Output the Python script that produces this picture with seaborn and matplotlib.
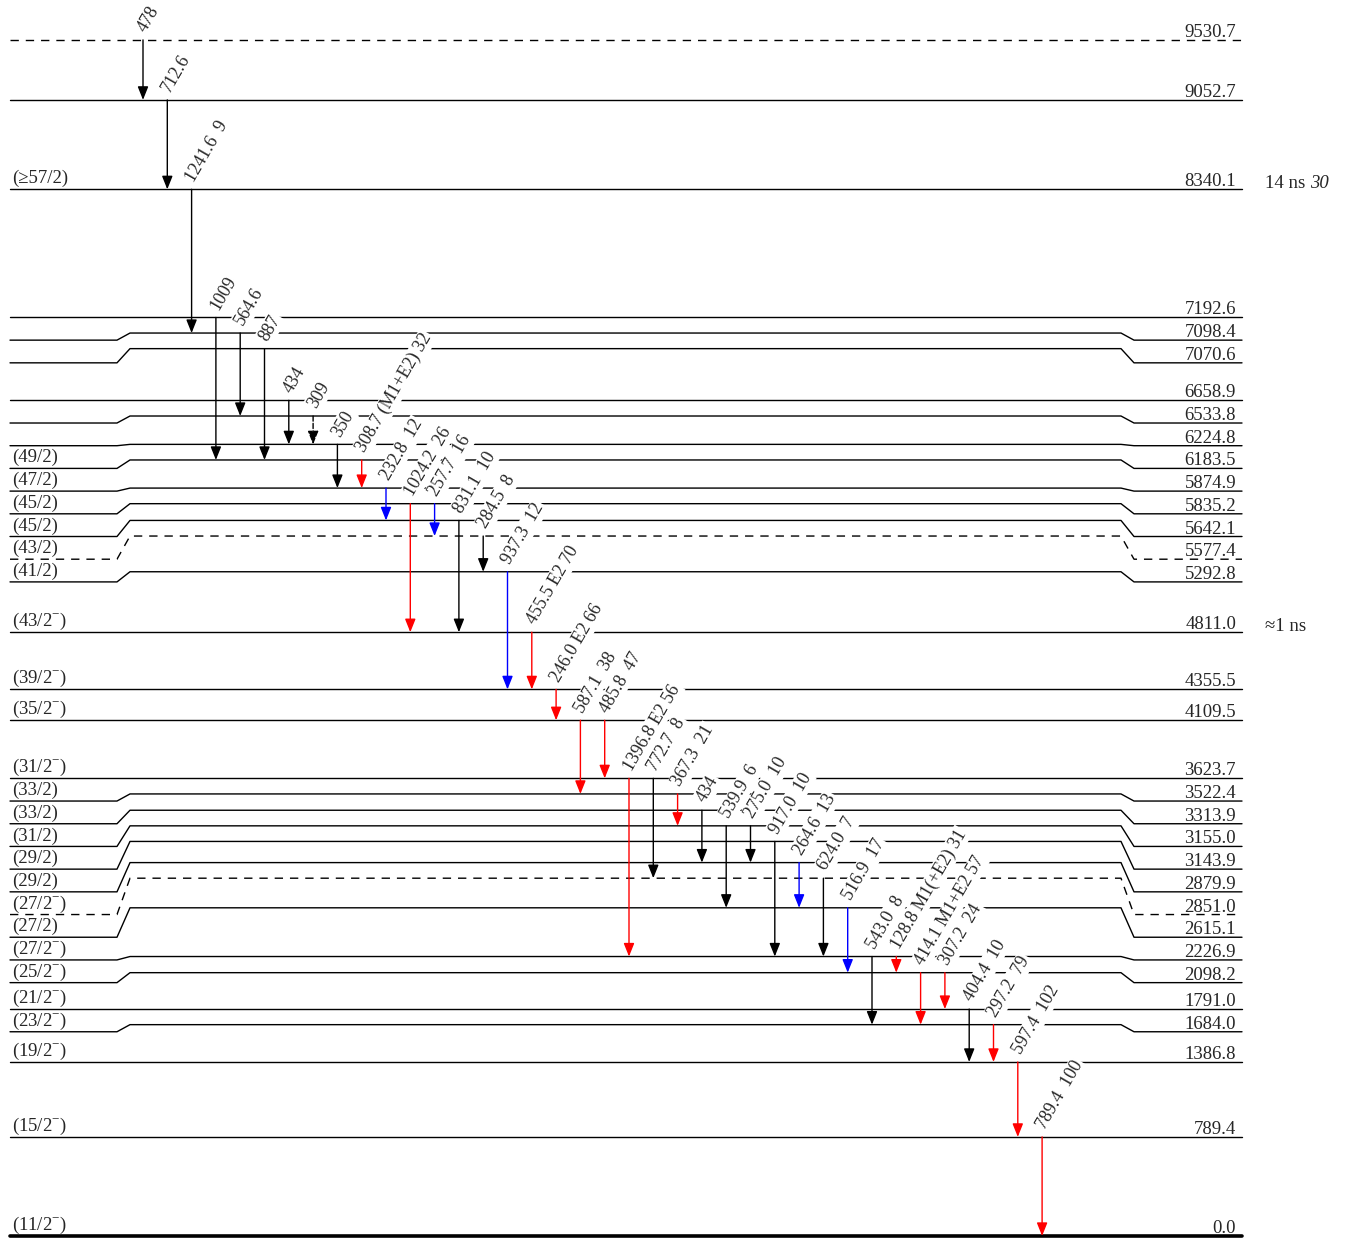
import numpy as np
import pandas as pd
import matplotlib.pyplot as plt
import seaborn as sns

# levels (keV) and spins, top to bottom
level_e = [9530.7, 9052.7, 8340.1, 7192.6, 7098.4, 7070.6, 6658.9, 6533.8, 6224.8,
           6183.5, 5874.9, 5835.2, 5642.1, 5577.4, 5292.8, 4811.0, 4355.5, 4109.5,
           3623.7, 3522.4, 3313.9, 3155.0, 3143.9, 2879.9, 2851.0, 2615.1, 2226.9,
           2098.2, 1791.0, 1684.0, 1386.8, 789.4, 0.0]
level_spin = ['', '', '(≥57/2)', '', '', '', '', '', '',
              '(49/2)', '(47/2)', '(45/2)', '(45/2)', '(43/2)', '(41/2)',
              '(43/2$^{-}$)', '(39/2$^{-}$)', '(35/2$^{-}$)', '(31/2$^{-}$)',
              '(33/2)', '(33/2)', '(31/2)', '(29/2)', '(29/2)', '(27/2$^{-}$)', '(27/2)',
              '(27/2$^{-}$)', '(25/2$^{-}$)', '(21/2$^{-}$)', '(23/2$^{-}$)',
              '(19/2$^{-}$)', '(15/2$^{-}$)', '(11/2$^{-}$)']
tentative_levels = [9530.7, 5577.4, 2851.0]

# half-lives (value, italic uncertainty)
hl_level = [8340.1, 4811.0]
hl_text = ['14 ns', '≈1 ns']
hl_err = ['30', '']

# gamma transitions
gam_e = ['478', '712.6', '1241.6', '1009', '564.6', '887', '434', '309', '350',
         '308.7', '232.8', '1024.2', '257.7', '831.1', '284.5', '937.3', '455.5',
         '246.0', '587.1', '485.8', '1396.8', '772.7', '367.3', '434', '539.9',
         '275.0', '917.0', '264.6', '624.0', '516.9', '543.0', '128.8', '414.1',
         '307.2', '404.4', '297.2', '597.4', '789.4']
gam_mult = ['', '', '', '', '', '', '', '', '',
            '(M1+E2)', '', '', '', '', '', '', 'E2',
            'E2', '', '', 'E2', '', '', '', '',
            '', '', '', '', '', '', 'M1(+E2)', 'M1+E2',
            '', '', '', '', '']
gam_int = ['', '', '9', '', '', '', '', '', '',
           '32', '12', '26', '16', '10', '8', '12', '70',
           '66', '38', '47', '56', '8', '21', '', '6',
           '10', '10', '13', '7', '17', '8', '31', '57',
           '24', '10', '79', '102', '100']
gam_from = [9530.7, 9052.7, 8340.1, 7192.6, 7098.4, 7070.6, 6658.9, 6533.8, 6224.8,
            6183.5, 5874.9, 5835.2, 5835.2, 5642.1, 5577.4, 5292.8, 4811.0,
            4355.5, 4109.5, 4109.5, 3623.7, 3623.7, 3522.4, 3313.9, 3155.0,
            3155.0, 3143.9, 2879.9, 2851.0, 2615.1, 2226.9, 2226.9, 2098.2,
            2098.2, 1791.0, 1684.0, 1386.8, 789.4]
gam_to = [9052.7, 8340.1, 7098.4, 6183.5, 6533.8, 6183.5, 6224.8, 6224.8, 5874.9,
          5874.9, 5642.1, 4811.0, 5577.4, 4811.0, 5292.8, 4355.5, 4355.5,
          4109.5, 3522.4, 3623.7, 2226.9, 2851.0, 3155.0, 2879.9, 2615.1,
          2879.9, 2226.9, 2615.1, 2226.9, 2098.2, 1684.0, 2098.2, 1684.0,
          1791.0, 1386.8, 1386.8, 789.4, 0.0]
gam_type = ['k', 'k', 'k', 'k', 'k', 'k', 'k', 'k', 'k',
            'r', 'b', 'r', 'b', 'k', 'k', 'b', 'r',
            'r', 'r', 'r', 'r', 'k', 'r', 'k', 'k',
            'k', 'k', 'b', 'k', 'b', 'k', 'r', 'r',
            'r', 'k', 'r', 'r', 'r']
tentative_gammas = ['309']

sns.set_theme(style='white')
plt.rcParams['font.family'] = ['Liberation Serif', 'DejaVu Serif']
plt.rcParams['mathtext.fontset'] = 'custom'
plt.rcParams['mathtext.rm'] = 'Liberation Serif'

# ---- layout (pixel-ish x, keV y) ----
PX = 0.1255            # pixels per keV
GAP_MAIN = 15.6 / PX   # min spacing of drawn level lines
GAP_SIDE = 22.7 / PX   # min spacing at the labelled ends
colors = {'k': 'black', 'r': '#ff0000', 'b': '#0000ff'}

order = np.argsort(level_e)          # ascending energy
disp = {}
prev = -1e9
for i in order:
    e = level_e[i]
    prev = max(e, prev + GAP_MAIN)
    disp[e] = prev
side = {}
prev = 1e9
for e in level_e:                    # descending
    prev = min(disp[e], prev - GAP_SIDE)
    side[e] = prev

X_L0, X_L1, X_M0, X_M1, X_R0, X_R1 = 10, 117, 130, 1121, 1134, 1242
rows = []
for e in level_e:
    kind = 'dashed' if e in tentative_levels else 'solid'
    for x, y in zip([X_L0, X_L1, X_M0, X_M1, X_R0, X_R1],
                    [side[e], side[e], disp[e], disp[e], side[e], side[e]]):
        rows.append({'level': e, 'x': x, 'y': y, 'kind': kind})
lev_df = pd.DataFrame(rows)

fig = plt.figure(figsize=(13.45, 12.38), dpi=100)
ax = fig.add_axes([0, 0, 1, 1])
sns.lineplot(data=lev_df[lev_df.level > 0], x='x', y='y', units='level', estimator=None,
             sort=False, style='kind', dashes={'solid': '', 'dashed': (6, 5)},
             color='black', lw=1.0, legend=False, ax=ax)
sns.lineplot(data=lev_df[lev_df.level == 0], x='x', y='y', estimator=None, sort=False,
             color='black', lw=2.6, legend=False, ax=ax)
ax.set_xlim(0, 1345)
ax.set_ylim(-2 / PX, 1236 / PX)

fs = 13.5
for e, s in zip(level_e, level_spin):
    ax.text(X_R1 - 6, side[e] + 3 / PX, f'{e:.1f}', ha='right', va='baseline',
            fontsize=fs, zorder=5)
    if s:
        ax.text(12, side[e] + 6 / PX, s, ha='left', va='baseline', fontsize=fs, zorder=5)

fig.canvas.draw()
renderer = fig.canvas.get_renderer()
for e, t, u in zip(hl_level, hl_text, hl_err):
    txt = ax.text(1265, side[e] + 1 / PX, t + ' ', ha='left', va='baseline', fontsize=fs)
    if u:
        bb = txt.get_window_extent(renderer=renderer)
        xe = ax.transData.inverted().transform((bb.x1, bb.y0))[0]
        ax.text(xe, side[e] + 1 / PX, u, ha='left', va='baseline', fontsize=fs,
                style='italic')

# transitions
x0, dx = 143, 24.3
for i, (eg, m, it, ei, ef, c) in enumerate(zip(gam_e, gam_mult, gam_int,
                                                gam_from, gam_to, gam_type)):
    x = x0 + i * dx
    ls = '--' if (eg in tentative_gammas and ei == 6533.8) else '-'
    ax.annotate('', xy=(x, disp[ef]), xytext=(x, disp[ei]),
                arrowprops=dict(arrowstyle='-|>,head_length=0.4,head_width=0.16',
                                mutation_scale=20, color=colors[c], lw=1.0,
                                linestyle=ls, shrinkA=0, shrinkB=0), zorder=3)
    label = eg
    if m:
        label += ' ' + m
    if it:
        label += ('  ' if not m else ' ') + it
    ax.text(x - 1, disp[ei] + 9 / PX, label, rotation=60, rotation_mode='anchor',
            ha='left', va='center', fontsize=13, zorder=4,
            bbox=dict(fc='white', ec='none', pad=1.0))

ax.axis('off')
fig.savefig('out.png', dpi=100)
